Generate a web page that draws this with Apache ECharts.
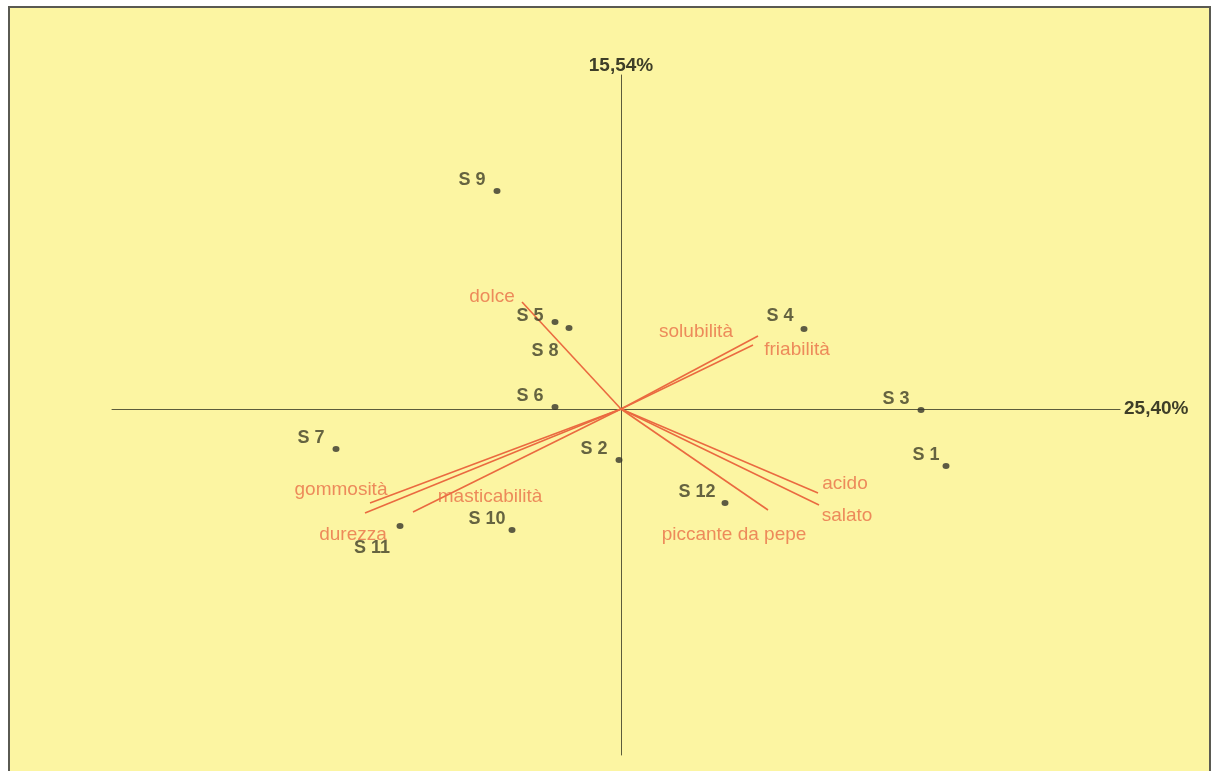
<!DOCTYPE html>
<html>
<head>
<meta charset="utf-8">
<script src="https://cdn.jsdelivr.net/npm/echarts@6/dist/echarts.min.js"></script>
<style>
  html, body { margin: 0; padding: 0; background: #fff; }
  #chart { width: 1216px; height: 771px; }
</style>
</head>
<body>
<div id="chart"></div>
<script>
// assi fattoriali
const xAxisName = '25,40%';
const yAxisName = '15,54%';

// campioni (punteggi)
const sampleNames = ['S 1', 'S 2', 'S 3', 'S 4', 'S 5', 'S 6', 'S 7', 'S 8', 'S 9', 'S 10', 'S 11', 'S 12'];
const sampleX = [3.25, -0.02, 3.00, 1.83, -0.66, -0.66, -2.85, -0.52, -1.24, -1.09, -2.21, 1.04];
const sampleY = [-0.57, -0.51, -0.01, 0.80, 0.87, 0.02, -0.40, 0.81, 2.18, -1.21, -1.17, -0.94];

// descrittori (vettori)
const attrNames = ['dolce', 'solubilità', 'friabilità', 'acido', 'salato', 'piccante da pepe', 'gommosità', 'durezza', 'masticabilità'];
const attrX = [-0.99, 1.37, 1.32, 1.97, 1.98, 1.47, -2.51, -2.56, -2.08];
const attrY = [1.07, 0.73, 0.64, -0.84, -0.96, -1.01, -0.94, -1.04, -1.03];

// posizione etichette (px rispetto al punto)
const sampleLabelOffset = {
    'S 8': [-24, 23],
    'S 11': [-28, 22],
    'S 5': [-25, -6],
    'S 4': [-24, -13],
    'S 12': [-28, -11],
    'S 1': [-20, -11]
};
const attrLabelOffset = {
    'dolce': [-30, -5],
    'solubilità': [-62, -4],
    'friabilità': [44, 5],
    'acido': [27, -9],
    'salato': [28, 11],
    'piccante da pepe': [-34, 25],
    'gommosità': [-29, -13],
    'durezza': [-12, 22],
    'masticabilità': [77, -15]
};

const darkText = '#3e3e28';
const redLine = '#ea6a40';
const redText = '#e86f48';
const fontFam = '"Liberation Sans", Arial, sans-serif';

let myChart = echarts.init(document.getElementById('chart'));

let sampleData = sampleNames.map(function (n, i) {
    return {
        name: n,
        value: [sampleX[i], sampleY[i]],
        label: { offset: sampleLabelOffset[n] || [-25, -11] }
    };
});

let vectorLines = attrNames.map(function (n, i) {
    return { coords: [[0, 0], [attrX[i], attrY[i]]] };
});

let vectorEnds = attrNames.map(function (n, i) {
    return {
        name: n,
        value: [attrX[i], attrY[i]],
        label: { offset: attrLabelOffset[n] }
    };
});

let option = {
    backgroundColor: '#ffffff',
    animation: false,
    graphic: [{
        type: 'rect',
        z: -10,
        shape: { x: 9, y: 7, width: 1201, height: 790 },
        style: { fill: '#fcf5a2', stroke: '#5a5a52', lineWidth: 2 }
    }],
    grid: {
        left: 112,
        right: 96,
        top: 75,
        bottom: 16
    },
    xAxis: {
        type: 'value',
        min: -5.09,
        max: 4.99,
        name: xAxisName,
        nameLocation: 'end',
        nameGap: 4,
        nameTextStyle: { color: darkText, fontSize: 19, fontWeight: 'bold', fontFamily: fontFam },
        axisLine: { onZero: true, lineStyle: { color: '#5c5c3c', width: 1 } },
        axisTick: { show: false },
        axisLabel: { show: false },
        splitLine: { show: false }
    },
    yAxis: {
        type: 'value',
        min: -3.46,
        max: 3.34,
        name: yAxisName,
        nameLocation: 'end',
        nameGap: 0,
        nameTextStyle: { color: darkText, fontSize: 19, fontWeight: 'bold', fontFamily: fontFam },
        axisLine: { onZero: true, lineStyle: { color: '#5c5c3c', width: 1 } },
        axisTick: { show: false },
        axisLabel: { show: false },
        splitLine: { show: false }
    },
    series: [{
        type: 'lines',
        coordinateSystem: 'cartesian2d',
        silent: true,
        lineStyle: { color: redLine, width: 1.6, opacity: 1 },
        data: vectorLines
    }, {
        type: 'scatter',
        symbolSize: 0,
        silent: true,
        label: {
            show: true,
            position: 'inside',
            formatter: '{b}',
            color: redText,
            fontSize: 19,
            fontFamily: fontFam
        },
        data: vectorEnds
    }, {
        type: 'scatter',
        symbol: 'circle',
        symbolSize: [7, 6],
        itemStyle: { color: '#35352a' },
        label: {
            show: true,
            position: 'inside',
            formatter: '{b}',
            color: darkText,
            fontSize: 18,
            fontWeight: 'bold',
            fontFamily: fontFam
        },
        data: sampleData
    }]
};
myChart.setOption(option);
</script>
</body>
</html>
